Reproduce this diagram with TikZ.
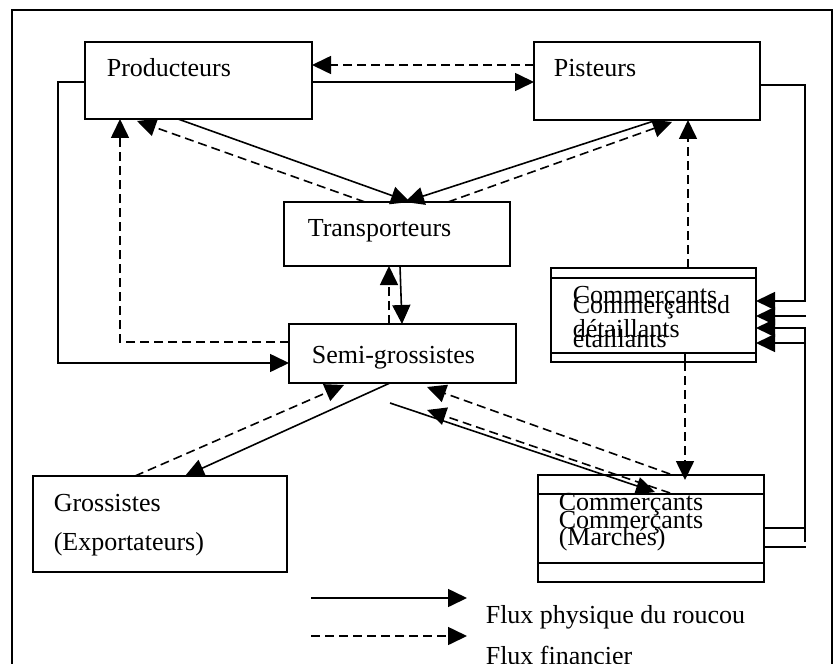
\documentclass[tikz,border=0pt]{standalone}
\usepackage{fontspec}
\setmainfont{Liberation Serif}
\usetikzlibrary{arrows.meta}
\tikzset{
flow/.style={x=1pt,y=-1pt,line width=1.6pt,>={Triangle[length=19pt,width=18pt]}},
actor/.style={draw,rectangle,inner sep=0pt,outer sep=0pt},
caption/.style={anchor=base west,inner sep=0pt,font=\fontsize{26}{34}\selectfont},
phys/.style={->},
fin/.style={->,dash pattern=on 9pt off 5pt}
}
\begin{document}
\begin{tikzpicture}[flow]
\useasboundingbox (0,0) rectangle (834,663);
\draw (12,700) -- (12,10) -- (832,10) -- (832,700);

% acteurs
\node[actor,minimum width=227pt,minimum height=77pt] (prod) at (198.5,80.5) {};
\node[actor,minimum width=226pt,minimum height=78pt] (pist) at (647,81) {};
\node[actor,minimum width=226pt,minimum height=64pt] (trans) at (397,234) {};
\node[actor,minimum width=227pt,minimum height=59pt] (semi) at (402.5,353.5) {};
\node[actor,minimum width=205pt,minimum height=94pt] (detail) at (653.5,315) {};
\node[actor,minimum width=226pt,minimum height=107pt] (marche) at (651,528.5) {};
\node[actor,minimum width=254pt,minimum height=96pt] (gross) at (160,524) {};

\draw ([yshift=-10pt]detail.north west) -- ([yshift=-10pt]detail.north east);
\draw ([yshift=9pt]detail.south west) -- ([yshift=9pt]detail.south east);
\draw ([xshift=31.5pt]detail.south) -- ++(0,-9);
\draw ([yshift=-19pt]marche.north west) -- ([yshift=-19pt]marche.north east);
\draw ([yshift=19pt]marche.south west) -- ([yshift=19pt]marche.south east);

\node[caption] (prodtxt) at (106,77) {Producteurs};
\node[caption] (pisttxt) at (553,77) {Pisteurs};
\node[caption] (transtxt) at (307,236) {Transporteurs};
\node[caption] (semitxt) at (311,363) {Semi-grossistes};
\node[caption] (detailtxta) at (572,303) {Commerçants};
\node[caption] (detailtxtb) at (572,337) {détaillants};
\node[caption] (detailtxtc) at (572,313) {Commerçantsd};
\node[caption] (detailtxtd) at (572,347) {étaillants};
\node[caption] (marchetxta) at (558,510) {Commerçants};
\node[caption] (marchetxtb) at (558,528) {Commerçants};
\node[caption] (marchetxtc) at (558,545) {(Marchés)};
\node[caption] (grosstxta) at (53,511) {Grossistes};
\node[caption] (grosstxtb) at (53,550) {(Exportateurs)};

% producteurs <-> pisteurs
\draw[fin] ([yshift=16pt]pist.west) -- ([yshift=15.5pt]prod.east);
\draw[phys] ([yshift=-1.5pt]prod.east) -- ([yshift=-1pt]pist.west);
\draw[phys] ([yshift=-1.5pt]prod.west) -- ++(-27,0) |- ([yshift=-9.5pt]semi.west);
\draw[fin] ([yshift=11.5pt]semi.west) -| ([xshift=-78.5pt]prod.south);

% vers et depuis les transporteurs
\draw[phys] ([xshift=-20.5pt]prod.south) -- ([xshift=13pt]trans.north);
\draw[fin] ([xshift=-32pt]trans.north) -- ([xshift=-61.5pt,yshift=-2pt]prod.south);
\draw[phys] ([xshift=10pt]pist.south) -- ([xshift=8pt]trans.north);
\draw[fin] ([xshift=51pt]trans.north) -- ([xshift=25pt,yshift=-2pt]pist.south);
\draw[fin] ([xshift=34.5pt]detail.north) -- ([xshift=41pt]pist.south);
\draw[phys] ([xshift=3pt]trans.south) -- ([xshift=-0.5pt]semi.north);
\draw[fin] ([xshift=-13.5pt]semi.north) -- ([xshift=-8pt]trans.south);

% semi-grossistes
\draw[phys] ([xshift=-12.5pt]semi.south) -- ([xshift=25pt]gross.north);
\draw[fin] ([xshift=-25pt]gross.north) -- ([xshift=-58.5pt,yshift=-2pt]semi.south);
\coordinate (physstart) at (390,403);
\coordinate (finend) at (427,410);
\draw[phys] (physstart) -- ([xshift=4pt,yshift=-17pt]marche.north);
\draw[fin] ([xshift=19pt,yshift=1pt]marche.north) -- ([xshift=24.5pt,yshift=-4pt]semi.south);
\draw[fin] ([xshift=19pt,yshift=-18pt]marche.north) -- (finend);
\draw[fin] ([xshift=31.5pt]detail.south) -- ([xshift=34pt,yshift=-5pt]marche.north);

% cote droit
\draw[phys] ([yshift=-4pt]pist.east) -- ++(45,0) |- ([yshift=14pt]detail.east);
\coordinate (rfreea) at (806,316);
\coordinate (rfreeb) at (806,343);
\coordinate (rbot) at (805,542);
\draw[phys] (rfreea) -- ([yshift=-1pt]detail.east);
\draw[phys] (rbot) |- ([yshift=-13pt]detail.east);
\draw[phys] (rfreeb) -- ([yshift=-28pt]detail.east);
\draw ([yshift=0.5pt]marche.east) -- ++(41,0);
\draw ([yshift=-18.5pt]marche.east) -- ++(42,0);

% legende
\coordinate (keyphys) at (311,598);
\coordinate (keyfin) at (311,636);
\draw[phys] (keyphys) -- ++(156,0);
\draw[fin] (keyfin) -- ++(156,0);
\node[caption] (keyphystxt) at (485,623) {Flux physique du roucou};
\node[caption] (keyfintxt) at (485,664) {Flux financier};
\end{tikzpicture}
\end{document}
